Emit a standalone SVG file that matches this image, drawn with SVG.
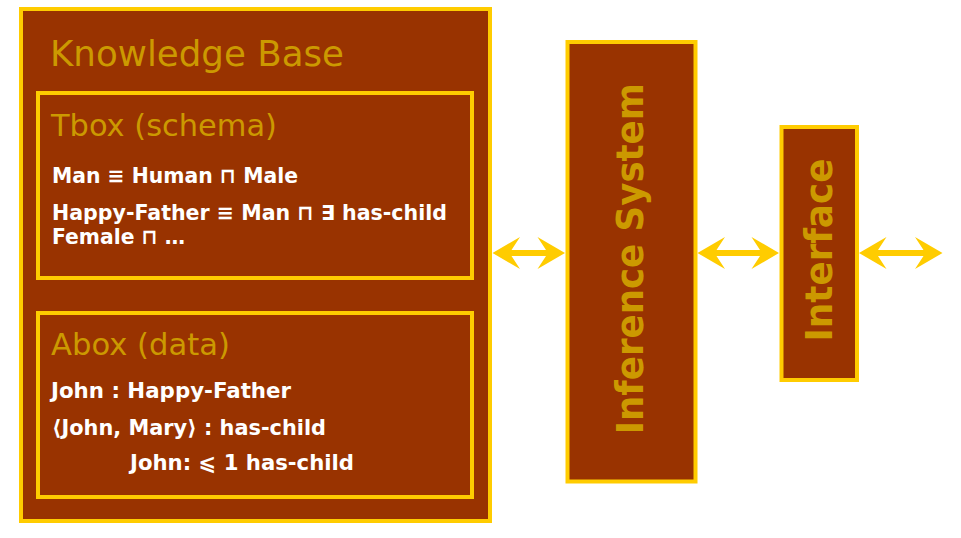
<svg xmlns="http://www.w3.org/2000/svg" width="961" height="538" viewBox="0 0 961 538">
<style>
.box{fill:#993300;stroke:#FFCC00;stroke-width:4}
.title{font-family:"DejaVu Sans","Liberation Sans",sans-serif;fill:#CC9900}
.vt{font-family:"DejaVu Sans","Liberation Sans",sans-serif;font-weight:bold;fill:#CC9900;font-size:37px;text-anchor:middle}
.body{font-family:"DejaVu Sans","Liberation Sans",sans-serif;font-weight:bold;fill:#FFFFFF;font-size:21px}
.arrow{fill:#FFCC00}
</style>
<rect width="961" height="538" fill="#FFFFFF"/>
<g id="knowledge-base">
<rect class="box" x="21" y="9" width="469" height="512"/>
<text class="title" x="50" y="66" font-size="35" textLength="294" lengthAdjust="spacingAndGlyphs">Knowledge Base</text>
</g>
<g id="tbox">
<rect class="box" x="38" y="93" width="434" height="185"/>
<text class="title" x="51" y="136" font-size="30" textLength="226" lengthAdjust="spacingAndGlyphs">Tbox (schema)</text>
<text class="body" x="52" y="183" textLength="246" lengthAdjust="spacingAndGlyphs">Man ≡ Human ⊓ Male</text>
<text class="body" x="52" y="220" textLength="395" lengthAdjust="spacingAndGlyphs">Happy-Father ≡ Man ⊓ ∃ has-child</text>
<text class="body" x="52" y="244" textLength="133" lengthAdjust="spacingAndGlyphs">Female ⊓ …</text>
</g>
<g id="abox">
<rect class="box" x="38" y="313" width="434" height="184"/>
<text class="title" x="51" y="355" font-size="30" textLength="179" lengthAdjust="spacingAndGlyphs">Abox (data)</text>
<text class="body" x="51" y="398" textLength="240" lengthAdjust="spacingAndGlyphs">John : Happy-Father</text>
<text class="body" x="52" y="435" textLength="274" lengthAdjust="spacingAndGlyphs">⟨John, Mary⟩ : has-child</text>
<text class="body" x="130" y="470" textLength="224" lengthAdjust="spacingAndGlyphs">John: ⩽ 1 has-child</text>
</g>
<g id="inference-system">
<rect class="box" x="567.5" y="42" width="128" height="439.5"/>
<text class="vt" transform="translate(643.3 258.7) rotate(-90)" textLength="351" lengthAdjust="spacingAndGlyphs">Inference System</text>
</g>
<g id="interface">
<rect class="box" x="781.5" y="127" width="75.5" height="253"/>
<text class="vt" transform="translate(831.7 250) rotate(-90)" textLength="183" lengthAdjust="spacingAndGlyphs">Interface</text>
</g>
<g id="connectors">
<polygon class="arrow" points="492.5,253 520,237 511.5,250 546,250 537.5,237 565,253 537.5,269 546,256 511.5,256 520,269"/>
<polygon class="arrow" points="697.5,253 725,237 716.5,250 760,250 751.5,237 779,253 751.5,269 760,256 716.5,256 725,269"/>
<polygon class="arrow" points="859,253 886.5,237 878,250 923.5,250 915,237 942.5,253 915,269 923.5,256 878,256 886.5,269"/>
</g>
</svg>
